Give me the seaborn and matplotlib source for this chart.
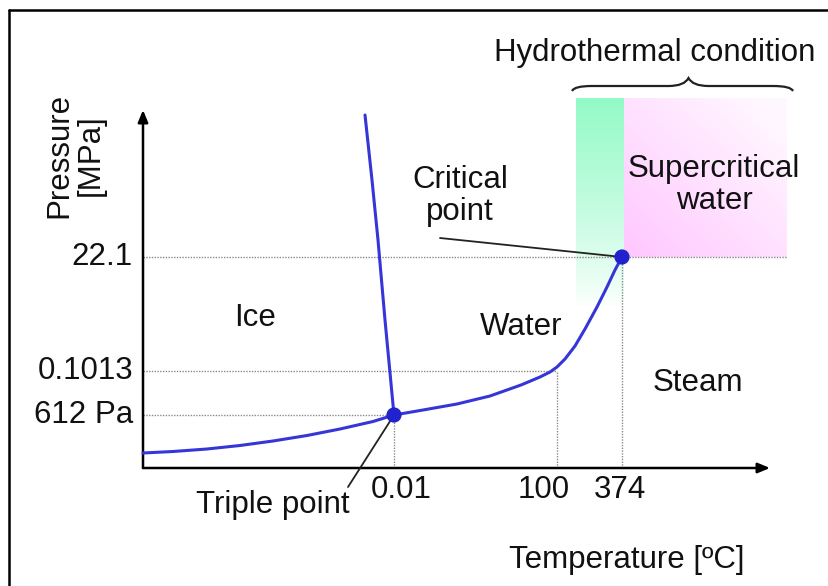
import numpy as np
import pandas as pd
import matplotlib
matplotlib.use("Agg")
import matplotlib.pyplot as plt
from matplotlib.path import Path
from matplotlib.patches import PathPatch
from matplotlib.lines import Line2D
import seaborn as sns

# ---- schematic data (arbitrary schematic units; origin where the axes cross) ----
sub_x = [0, 30, 64, 97, 130, 164, 197, 230, 251]
sub_y = [15, 16.5, 19, 22.5, 27, 32.5, 39, 46.5, 53]
vap_x = [251, 280, 314, 347, 378, 397, 407, 414, 422, 432, 442, 454, 464, 472, 479]
vap_y = [53, 58, 64, 72, 83, 91, 96, 101, 109, 122, 139, 161, 181, 198, 211]
melt_x = [222, 229, 235, 242, 251]
melt_y = [353, 288, 228, 148, 53]
point_names = ["Triple point", "Critical point"]
point_x = [251, 479]
point_y = [53, 211]

xtick_pos = [251, 414, 479]
xtick_labels = ["0.01", "100", "374"]
ytick_pos = [53, 97, 211]
ytick_labels = ["612 Pa", "0.1013", "22.1"]

hydro_x = [433, 481]        # hydrothermal (green) band
super_x = [481, 644]        # supercritical box
region_top = 370

region_labels = ["Ice", "Water", "Steam", "Supercritical\nwater"]
region_lx = [112, 378, 555, 571]
region_ly = [150, 141, 85, 283]

x_max, y_max = 627, 358

# ---- figure ----
sns.set_theme(style="white")
plt.rcParams['font.family'] = ['Liberation Sans', 'DejaVu Sans']
fig = plt.figure(figsize=(8.29, 5.86), dpi=100)
ax = fig.add_axes([0, 0, 1, 1])
ax.set_xlim(-143, 686)
ax.set_ylim(-118, 468)
ax.axis("off")

FS = 22.5
blue = "#3535d8"
txt = "#111111"

# gradients
ng = np.linspace(1, 0, 200).reshape(-1, 1)
green = np.array([0.58, 0.98, 0.78])
white = np.array([1.0, 1.0, 1.0])
gimg = np.clip(ng[..., None] ** 0.8 * green + (1 - ng[..., None] ** 0.8) * white, 0, 1)
ax.imshow(gimg, extent=[hydro_x[0], hydro_x[1], point_y[1] - 50, region_top],
          aspect="auto", zorder=0, origin="upper", interpolation="bilinear")
gx, gy = np.meshgrid(np.linspace(0, 1, 100), np.linspace(0, 1, 100))
t = np.clip(0.55 * gx + 0.55 * (1 - gy), 0, 1)
pink = np.array([1.0, 0.78, 1.0])
light = np.array([1.0, 0.97, 1.0])
pimg = (1 - t)[..., None] * pink + t[..., None] * light
ax.imshow(pimg, extent=[super_x[0], super_x[1], point_y[1], region_top],
          aspect="auto", zorder=0, origin="upper", interpolation="bilinear")

# dotted guide lines
grid_kw = dict(color="#8a8a8a", lw=1.0, ls=(0, (1, 1)), zorder=1)
ax.plot([0, xtick_pos[0]], [ytick_pos[0]] * 2, **grid_kw)
ax.plot([0, xtick_pos[1]], [ytick_pos[1]] * 2, **grid_kw)
ax.plot([0, super_x[1]], [ytick_pos[2]] * 2, **grid_kw)
for xp, yp in zip(xtick_pos, ytick_pos):
    ax.plot([xp, xp], [0, yp], **grid_kw)

# axes arrows
arrow_kw = dict(arrowstyle="-|>,head_length=0.6,head_width=0.25", color="black", lw=1.8,
                shrinkA=0, shrinkB=0)
ax.annotate("", xy=(0, y_max), xytext=(0, 0), arrowprops=arrow_kw, zorder=3)
ax.annotate("", xy=(x_max, 0), xytext=(0, 0), arrowprops=arrow_kw, zorder=3)

# phase boundaries
curves = pd.concat([
    pd.DataFrame({"x": sub_x, "y": sub_y, "curve": "sub"}),
    pd.DataFrame({"x": vap_x, "y": vap_y, "curve": "vap"}),
    pd.DataFrame({"x": melt_x, "y": melt_y, "curve": "melt"}),
])
for name, g in curves.groupby("curve"):
    xs = np.array(g["x"], float)
    ys = np.array(g["y"], float)
    sns.lineplot(x=xs, y=ys, sort=False, estimator=None, color=blue, lw=2.2,
                 ax=ax, zorder=4)
for ln in ax.get_lines():
    ln.set_solid_joinstyle("round")

pts = pd.DataFrame({"x": point_x, "y": point_y, "name": point_names})
sns.scatterplot(data=pts, x="x", y="y", color="#2222cc", s=120, edgecolor="none",
                ax=ax, zorder=5, legend=False)

# annotations
ax.annotate("", xy=(point_x[0], point_y[0]), xytext=(205, -19),
            arrowprops=dict(arrowstyle="-", color="#222222", lw=1.3, shrinkA=0, shrinkB=0))
ax.annotate("", xy=(point_x[1], point_y[1]), xytext=(297, 230),
            arrowprops=dict(arrowstyle="-", color="#222222", lw=1.3, shrinkA=0, shrinkB=0))
ax.text(130, -37, "Triple point", fontsize=FS, ha="center", va="center", color=txt)
ax.text(317, 272, "Critical\npoint", fontsize=FS, ha="center", va="center",
        color=txt, linespacing=1.1)

# tick labels
for xp, lab, dx in zip(xtick_pos, xtick_labels, [7, -13, -2]):
    ax.text(xp + dx, -22, lab, fontsize=FS, ha="center", va="center", color=txt)
for yp, lab in zip(ytick_pos, ytick_labels):
    ax.text(-10, yp, lab, fontsize=FS, ha="right", va="center", color=txt)

# region labels
for lab, lx, ly in zip(region_labels, region_lx, region_ly):
    ax.text(lx, ly, lab, fontsize=FS, ha="center", va="center", color=txt,
            linespacing=1.1)

# axis titles
ax.text(484, -92, "Temperature [ºC]", fontsize=FS, ha="center", va="center", color=txt)
ax.text(-68, 313, "Pressure\n[MPa]", fontsize=FS, ha="center", va="center",
        rotation=90, color=txt, linespacing=1.05)

# brace over hydrothermal condition
bx0, bx1 = hydro_x[0] - 4, super_x[1] + 6
bm = (bx0 + bx1) / 2 + 6
yb, yf, yt = 377, 382, 390
verts = [(bx0, yb), (bx0 + 2, yf), (bx0 + 20, yf),
         (bm - 20, yf), (bm - 4, yf), (bm, yt),
         (bm + 4, yf), (bm + 20, yf),
         (bx1 - 20, yf), (bx1 - 2, yf), (bx1, yb)]
codes = [Path.MOVETO, Path.CURVE3, Path.CURVE3,
         Path.LINETO, Path.CURVE3, Path.CURVE3,
         Path.CURVE3, Path.CURVE3,
         Path.LINETO, Path.CURVE3, Path.CURVE3]
ax.add_patch(PathPatch(Path(verts, codes), fill=False, lw=1.6, color="#222222"))
ax.text(512, 415, "Hydrothermal condition", fontsize=FS, ha="center", va="center",
        color=txt)

# frame (top and left edges)
fig.add_artist(Line2D([9 / 829, 1], [1 - 10 / 586] * 2, color="black", lw=1.8,
                      transform=fig.transFigure))
fig.add_artist(Line2D([9 / 829] * 2, [0, 1 - 10 / 586], color="black", lw=1.8,
                      transform=fig.transFigure))

fig.savefig("out.png", dpi=100)
